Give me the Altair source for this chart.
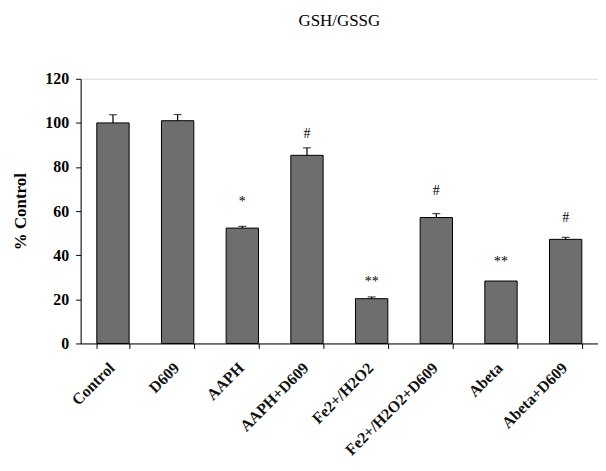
import altair as alt
import pandas as pd

categories = ["Control", "D609", "AAPH", "AAPH+D609", "Fe2+/H2O2",
              "Fe2+/H2O2+D609", "Abeta", "Abeta+D609"]
values = [100, 101, 52.3, 85.3, 20.3, 57.1, 28.3, 47.2]
errors = [3.7, 2.8, 0.8, 3.4, 0.8, 1.8, 0.0, 0.9]
signif = ["", "", "*", "#", "**", "#", "**", "#"]
signif_y = [0, 0, 64, 95, 28, 69, 37, 57]

df = pd.DataFrame({
    "cat": categories,
    "val": values,
    "err": errors,
    "top": [v + e for v, e in zip(values, errors)],
    "sig": signif,
    "sig_y": signif_y,
})

FONT = "Liberation Serif"

x = alt.X(
    "cat:N",
    sort=categories,
    title=None,
    scale=alt.Scale(paddingInner=0.5, paddingOuter=0.25),
    axis=alt.Axis(
        labelAngle=-45,
        tickBand="extent",
        labelFont=FONT,
        labelFontSize=16,
        labelFontWeight="bold",
        labelColor="#111111",
        labelPadding=11,
        labelOffset=-7,
        tickSize=5,
        tickColor="black",
        domainColor="black",
        labelOverlap=False,
    ),
)

y_scale = alt.Scale(domain=[0, 120], nice=False)

base = alt.Chart(df)

bars = base.mark_bar(fill="#6e6e6e", stroke="black", strokeWidth=1).encode(
    x=x,
    y=alt.Y(
        "val:Q",
        scale=y_scale,
        title="% Control",
        axis=alt.Axis(
            values=[0, 20, 40, 60, 80, 100, 120],
            grid=False,
            labelFont=FONT,
            labelFontSize=16,
            labelFontWeight="bold",
            labelColor="black",
            labelPadding=7,
            tickSize=5,
            tickColor="black",
            domainColor="black",
            titleFont=FONT,
            titleFontSize=17,
            titleFontWeight="bold",
            titleColor="black",
            titlePadding=15,
        ),
    ),
)

rules = base.transform_filter("datum.err > 0").mark_rule(color="black", strokeWidth=1.2).encode(
    x=alt.X("cat:N", sort=categories),
    y=alt.Y("val:Q", scale=y_scale),
    y2="top:Q",
)

caps = base.transform_filter("datum.err > 0").mark_tick(color="black", size=8, thickness=1.2, orient="horizontal").encode(
    x=alt.X("cat:N", sort=categories),
    y=alt.Y("top:Q", scale=y_scale),
)

sig = base.transform_filter("datum.sig != ''").mark_text(
    font=FONT, fontSize=14, color="black", baseline="middle"
).encode(
    x=alt.X("cat:N", sort=categories),
    y=alt.Y("sig_y:Q", scale=y_scale),
    text="sig:N",
)

chart = alt.layer(bars, rules, caps, sig).properties(
    width=520,
    height=266,
    title=alt.TitleParams("GSH/GSSG", font=FONT, fontSize=17, fontWeight="normal",
                          color="black", offset=41),
    autosize=alt.AutoSizeParams(type="none"),
    padding={"left": 73, "top": 70, "right": 0, "bottom": 120},
).configure_view(stroke=None).configure(background="white")

chart.save("out.html", embed_options={"renderer": "svg", "actions": False})
